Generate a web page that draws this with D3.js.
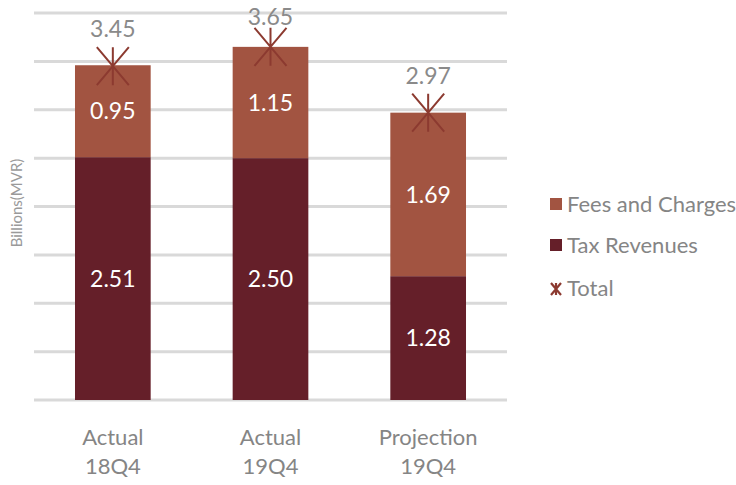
<!DOCTYPE html>
<html>
<head>
<meta charset="utf-8">
<script src="https://cdn.jsdelivr.net/npm/d3@7"></script>
<style>
  html, body { margin: 0; padding: 0; background: #fff; }
  svg { display: block; font-family: Lato, "Open Sans", sans-serif; }
</style>
</head>
<body>
<svg id="chart" width="736" height="485"></svg>
<script>
// Revenue composition (billions of MVR)
const categories = ["Actual\n18Q4", "Actual\n19Q4", "Projection\n19Q4"];
const taxRevenues = [2.51, 2.50, 1.28];
const feesAndCharges = [0.95, 1.15, 1.69];
const totals = [3.45, 3.65, 2.97];
const yTicks = [0, 0.5, 1, 1.5, 2, 2.5, 3, 3.5, 4];
const seriesNames = ["Fees and Charges", "Tax Revenues", "Total"];

const colors = { fees: "#a25441", tax: "#651f29", total: "#8c3a30" };

const svg = d3.select("#chart");
const margin = { left: 34, right: 229, top: 13, bottom: 85 };
const W = 736, H = 485;

const x = d3.scaleBand()
  .domain(categories)
  .range([margin.left, W - margin.right])
  .paddingInner(0.52)
  .paddingOuter(0.26);

const y = d3.scaleLinear().domain([0, 4]).range([H - margin.bottom, margin.top]);

// Gridlines
svg.append("g")
  .selectAll("line")
  .data(yTicks)
  .join("line")
  .attr("x1", margin.left)
  .attr("x2", W - margin.right)
  .attr("y1", d => y(d))
  .attr("y2", d => y(d))
  .attr("stroke", "#d9d9d9")
  .attr("stroke-width", 3);

// Stacked bars
const rows = categories.map((c, i) => ({ cat: c, tax: taxRevenues[i], fees: feesAndCharges[i], total: totals[i] }));
const stack = d3.stack().keys(["tax", "fees"])(rows);

svg.append("g")
  .selectAll("g")
  .data(stack)
  .join("g")
  .attr("fill", d => colors[d.key])
  .selectAll("rect")
  .data(d => d)
  .join("rect")
  .attr("x", d => x(d.data.cat))
  .attr("width", x.bandwidth())
  .attr("y", d => y(d[1]))
  .attr("height", d => y(d[0]) - y(d[1]));

// Segment value labels
const segLabels = svg.append("g")
  .attr("fill", "#fff")
  .attr("font-size", 23)
  .attr("text-anchor", "middle");
stack.forEach(layer => {
  segLabels.selectAll(null)
    .data(layer)
    .join("text")
    .attr("x", d => x(d.data.cat) + x.bandwidth() / 2)
    .attr("y", d => (y(d[0]) + y(d[1])) / 2)
    .attr("dy", "0.36em")
    .text(d => d.data[layer.key].toFixed(2));
});

// Asterisk marker path
function starPath(hx, hy) {
  return `M0,${-hy}V${hy}M${-hx},${-hy}L${hx},${hy}M${hx},${-hy}L${-hx},${hy}`;
}

svg.append("g")
  .selectAll("path")
  .data(rows)
  .join("path")
  .attr("transform", d => `translate(${x(d.cat) + x.bandwidth() / 2},${y(d.total)})`)
  .attr("d", starPath(16, 19))
  .attr("stroke", colors.total)
  .attr("stroke-width", 2)
  .attr("fill", "none");

// Total labels sit above the marker but stay inside the chart area
svg.append("g")
  .attr("fill", "#8a8a8a")
  .attr("font-size", 23)
  .attr("text-anchor", "middle")
  .selectAll("text")
  .data(rows)
  .join("text")
  .attr("x", d => x(d.cat) + x.bandwidth() / 2)
  .attr("y", d => Math.max(y(d.total) - 29, 25))
  .text(d => d.total.toFixed(2));

// Category axis labels
const xl = svg.append("g")
  .attr("fill", "#858585")
  .attr("font-size", 22)
  .attr("text-anchor", "middle");
categories.forEach(c => {
  const lines = c.split("\n");
  const t = xl.append("text").attr("x", x(c) + x.bandwidth() / 2).attr("y", 445);
  lines.forEach((ln, i) => t.append("tspan").attr("x", x(c) + x.bandwidth() / 2).attr("dy", i === 0 ? 0 : 29).text(ln));
});

// Y axis title
svg.append("text")
  .attr("transform", "translate(22,203) rotate(-90)")
  .attr("text-anchor", "middle")
  .attr("font-size", 15)
  .attr("fill", "#9a9a9a")
  .text("Billions(MVR)");

// Legend
const legend = svg.append("g").attr("font-size", 22).attr("fill", "#858585");
const legendY = [204, 245, 288];
seriesNames.forEach((name, i) => {
  const g = legend.append("g").attr("transform", `translate(550,${legendY[i]})`);
  if (i < 2) {
    g.append("rect").attr("x", 0).attr("y", -6).attr("width", 12).attr("height", 12)
      .attr("fill", i === 0 ? colors.fees : colors.tax);
  } else {
    g.append("path").attr("transform", "translate(6,1)").attr("d", starPath(5, 6))
      .attr("stroke", colors.total).attr("stroke-width", 2.2).attr("fill", "none");
  }
  g.append("text").attr("x", 17).attr("dy", "0.36em").text(name);
});
</script>
</body>
</html>
